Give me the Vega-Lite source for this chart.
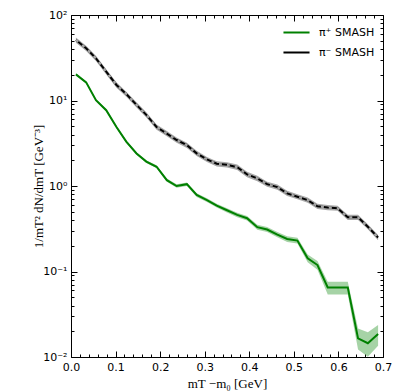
{
  "$schema": "https://vega.github.io/schema/vega-lite/v6.json",
  "autosize": "none",
  "width": 312,
  "height": 342,
  "padding": {"left": 71, "top": 15, "right": 13, "bottom": 35},
  "data": {"values": [
    {"x": 0.011, "s": "π⁺ SMASH", "y": 20.2, "lo": 19.6, "hi": 20.8},
    {"x": 0.034, "s": "π⁺ SMASH", "y": 16.3, "lo": 15.8, "hi": 16.8},
    {"x": 0.056, "s": "π⁺ SMASH", "y": 10.1, "lo": 9.8, "hi": 10.4},
    {"x": 0.079, "s": "π⁺ SMASH", "y": 7.7, "lo": 7.45, "hi": 7.95},
    {"x": 0.102, "s": "π⁺ SMASH", "y": 4.9, "lo": 4.75, "hi": 5.05},
    {"x": 0.124, "s": "π⁺ SMASH", "y": 3.3, "lo": 3.19, "hi": 3.41},
    {"x": 0.147, "s": "π⁺ SMASH", "y": 2.4, "lo": 2.32, "hi": 2.48},
    {"x": 0.169, "s": "π⁺ SMASH", "y": 1.93, "lo": 1.86, "hi": 2.0},
    {"x": 0.192, "s": "π⁺ SMASH", "y": 1.68, "lo": 1.61, "hi": 1.75},
    {"x": 0.215, "s": "π⁺ SMASH", "y": 1.17, "lo": 1.12, "hi": 1.22},
    {"x": 0.237, "s": "π⁺ SMASH", "y": 1.0, "lo": 0.955, "hi": 1.045},
    {"x": 0.26, "s": "π⁺ SMASH", "y": 1.05, "lo": 1.0, "hi": 1.1},
    {"x": 0.282, "s": "π⁺ SMASH", "y": 0.785, "lo": 0.745, "hi": 0.825},
    {"x": 0.305, "s": "π⁺ SMASH", "y": 0.685, "lo": 0.65, "hi": 0.72},
    {"x": 0.327, "s": "π⁺ SMASH", "y": 0.59, "lo": 0.56, "hi": 0.62},
    {"x": 0.35, "s": "π⁺ SMASH", "y": 0.52, "lo": 0.49, "hi": 0.55},
    {"x": 0.373, "s": "π⁺ SMASH", "y": 0.46, "lo": 0.432, "hi": 0.488},
    {"x": 0.395, "s": "π⁺ SMASH", "y": 0.42, "lo": 0.394, "hi": 0.446},
    {"x": 0.418, "s": "π⁺ SMASH", "y": 0.33, "lo": 0.308, "hi": 0.352},
    {"x": 0.44, "s": "π⁺ SMASH", "y": 0.31, "lo": 0.289, "hi": 0.331},
    {"x": 0.463, "s": "π⁺ SMASH", "y": 0.27, "lo": 0.251, "hi": 0.289},
    {"x": 0.485, "s": "π⁺ SMASH", "y": 0.24, "lo": 0.222, "hi": 0.258},
    {"x": 0.508, "s": "π⁺ SMASH", "y": 0.23, "lo": 0.212, "hi": 0.248},
    {"x": 0.531, "s": "π⁺ SMASH", "y": 0.143, "lo": 0.128, "hi": 0.158},
    {"x": 0.553, "s": "π⁺ SMASH", "y": 0.119, "lo": 0.105, "hi": 0.133},
    {"x": 0.576, "s": "π⁺ SMASH", "y": 0.065, "lo": 0.054, "hi": 0.076},
    {"x": 0.598, "s": "π⁺ SMASH", "y": 0.065, "lo": 0.054, "hi": 0.076},
    {"x": 0.621, "s": "π⁺ SMASH", "y": 0.065, "lo": 0.054, "hi": 0.076},
    {"x": 0.644, "s": "π⁺ SMASH", "y": 0.0165, "lo": 0.0122, "hi": 0.0215},
    {"x": 0.666, "s": "π⁺ SMASH", "y": 0.0145, "lo": 0.0101, "hi": 0.0195},
    {"x": 0.689, "s": "π⁺ SMASH", "y": 0.0186, "lo": 0.0135, "hi": 0.0237},
    {"x": 0.011, "s": "π⁻ SMASH", "y": 51, "lo": 47.4, "hi": 54.6},
    {"x": 0.034, "s": "π⁻ SMASH", "y": 40.8, "lo": 37.9, "hi": 43.7},
    {"x": 0.056, "s": "π⁻ SMASH", "y": 31.1, "lo": 28.9, "hi": 33.3},
    {"x": 0.079, "s": "π⁻ SMASH", "y": 21.7, "lo": 20.2, "hi": 23.2},
    {"x": 0.102, "s": "π⁻ SMASH", "y": 15.2, "lo": 14.1, "hi": 16.3},
    {"x": 0.124, "s": "π⁻ SMASH", "y": 11.9, "lo": 11.1, "hi": 12.7},
    {"x": 0.147, "s": "π⁻ SMASH", "y": 8.9, "lo": 8.28, "hi": 9.52},
    {"x": 0.169, "s": "π⁻ SMASH", "y": 6.8, "lo": 6.32, "hi": 7.28},
    {"x": 0.192, "s": "π⁻ SMASH", "y": 4.9, "lo": 4.56, "hi": 5.24},
    {"x": 0.215, "s": "π⁻ SMASH", "y": 4.1, "lo": 3.81, "hi": 4.39},
    {"x": 0.237, "s": "π⁻ SMASH", "y": 3.45, "lo": 3.21, "hi": 3.69},
    {"x": 0.26, "s": "π⁻ SMASH", "y": 3.0, "lo": 2.79, "hi": 3.21},
    {"x": 0.282, "s": "π⁻ SMASH", "y": 2.41, "lo": 2.24, "hi": 2.58},
    {"x": 0.305, "s": "π⁻ SMASH", "y": 2.05, "lo": 1.91, "hi": 2.19},
    {"x": 0.327, "s": "π⁻ SMASH", "y": 1.82, "lo": 1.69, "hi": 1.95},
    {"x": 0.35, "s": "π⁻ SMASH", "y": 1.77, "lo": 1.65, "hi": 1.89},
    {"x": 0.373, "s": "π⁻ SMASH", "y": 1.66, "lo": 1.54, "hi": 1.78},
    {"x": 0.395, "s": "π⁻ SMASH", "y": 1.37, "lo": 1.27, "hi": 1.47},
    {"x": 0.418, "s": "π⁻ SMASH", "y": 1.23, "lo": 1.14, "hi": 1.32},
    {"x": 0.44, "s": "π⁻ SMASH", "y": 1.05, "lo": 0.977, "hi": 1.12},
    {"x": 0.463, "s": "π⁻ SMASH", "y": 0.97, "lo": 0.902, "hi": 1.04},
    {"x": 0.485, "s": "π⁻ SMASH", "y": 0.82, "lo": 0.763, "hi": 0.877},
    {"x": 0.508, "s": "π⁻ SMASH", "y": 0.75, "lo": 0.698, "hi": 0.803},
    {"x": 0.531, "s": "π⁻ SMASH", "y": 0.685, "lo": 0.637, "hi": 0.733},
    {"x": 0.553, "s": "π⁻ SMASH", "y": 0.58, "lo": 0.539, "hi": 0.621},
    {"x": 0.576, "s": "π⁻ SMASH", "y": 0.56, "lo": 0.521, "hi": 0.599},
    {"x": 0.598, "s": "π⁻ SMASH", "y": 0.55, "lo": 0.512, "hi": 0.589},
    {"x": 0.621, "s": "π⁻ SMASH", "y": 0.43, "lo": 0.4, "hi": 0.46},
    {"x": 0.644, "s": "π⁻ SMASH", "y": 0.43, "lo": 0.4, "hi": 0.46},
    {"x": 0.666, "s": "π⁻ SMASH", "y": 0.334, "lo": 0.311, "hi": 0.357},
    {"x": 0.689, "s": "π⁻ SMASH", "y": 0.25, "lo": 0.2325, "hi": 0.2675}
  ]},
  "layer": [
    {
      "transform": [{"filter": "datum.s === 'π⁻ SMASH'"}],
      "mark": {"type": "area", "color": "#999999", "opacity": 0.85},
      "encoding": {
        "x": {"field": "x", "type": "quantitative", "scale": {"domain": [0, 0.7], "nice": false},
          "axis": {"orient": "bottom", "values": [0,0.02,0.04,0.06,0.08,0.1,0.12,0.14,0.16,0.18,0.2,0.22,0.24,0.26,0.28,0.3,0.32,0.34,0.36,0.38,0.4,0.42,0.44,0.46,0.48,0.5,0.52,0.54,0.56,0.58,0.6,0.62,0.64,0.66,0.68,0.7],
            "tickSize": {"condition": {"test": "abs(datum.value*10 - round(datum.value*10)) < 0.001", "value": -6}, "value": -3},
            "labelExpr": "abs(datum.value*10 - round(datum.value*10)) < 0.001 ? format(datum.value, '.1f') : ''",
            "labelPadding": 10, "labelFlush": false, "labelOverlap": false,
            "title": "mT −m₀  [GeV]", "titlePadding": 2}},
        "y": {"field": "lo", "type": "quantitative", "scale": {"type": "log", "domain": [0.01, 100], "nice": false},
          "axis": {"orient": "left", "values": [0.01,0.02,0.03,0.04,0.05,0.06,0.07,0.08,0.09,0.1,0.2,0.3,0.4,0.5,0.6,0.7,0.8,0.9,1,2,3,4,5,6,7,8,9,10,20,30,40,50,60,70,80,90,100],
            "tickSize": {"condition": {"test": "indexof([0.01,0.1,1,10,100], datum.value) >= 0", "value": -6}, "value": -3},
            "labelExpr": "datum.value==100?'10²':datum.value==10?'10¹':datum.value==1?'10⁰':datum.value==0.1?'10⁻¹':datum.value==0.01?'10⁻²':''",
            "labelPadding": 10, "labelFlush": false, "labelOverlap": false,
            "title": "1/mT² dN/dmT  [GeV⁻³]", "titlePadding": -3}},
        "y2": {"field": "hi"}
      }
    },
    {
      "transform": [{"filter": "datum.s === 'π⁺ SMASH'"}],
      "mark": {"type": "area", "color": "#008000", "opacity": 0.35},
      "encoding": {
        "x": {"field": "x", "type": "quantitative", "axis": null},
        "y": {"field": "lo", "type": "quantitative", "axis": null},
        "y2": {"field": "hi"}
      }
    },
    {
      "mark": {"type": "line", "strokeWidth": 2},
      "encoding": {
        "x": {"field": "x", "type": "quantitative", "axis": null},
        "y": {"field": "y", "type": "quantitative", "axis": null},
        "color": {"field": "s", "type": "nominal",
          "scale": {"domain": ["π⁺ SMASH", "π⁻ SMASH"], "range": ["#008000", "#000000"]},
          "legend": {"title": null, "orient": "none", "legendX": 211, "legendY": 3,
            "symbolType": "stroke", "symbolSize": 680, "symbolStrokeWidth": 2,
            "labelFont": "DejaVu Sans", "labelFontSize": 11, "labelColor": "black", "labelOffset": 8, "rowPadding": -3}}
      }
    },
    {
      "transform": [{"filter": "datum.s === 'π⁻ SMASH'"}],
      "mark": {"type": "line", "strokeWidth": 2.2, "color": "#a6a6a6", "strokeDash": [3, 5]},
      "encoding": {
        "x": {"field": "x", "type": "quantitative", "axis": null},
        "y": {"field": "y", "type": "quantitative", "axis": null}
      }
    },
    {
      "mark": {"type": "point", "opacity": 0},
      "encoding": {
        "x": {"field": "x", "type": "quantitative",
          "axis": {"orient": "top", "values": [0,0.02,0.04,0.06,0.08,0.1,0.12,0.14,0.16,0.18,0.2,0.22,0.24,0.26,0.28,0.3,0.32,0.34,0.36,0.38,0.4,0.42,0.44,0.46,0.48,0.5,0.52,0.54,0.56,0.58,0.6,0.62,0.64,0.66,0.68,0.7],
            "tickSize": {"condition": {"test": "abs(datum.value*10 - round(datum.value*10)) < 0.001", "value": -6}, "value": -3},
            "labels": false, "title": null}},
        "y": {"field": "y", "type": "quantitative",
          "axis": {"orient": "right", "values": [0.01,0.02,0.03,0.04,0.05,0.06,0.07,0.08,0.09,0.1,0.2,0.3,0.4,0.5,0.6,0.7,0.8,0.9,1,2,3,4,5,6,7,8,9,10,20,30,40,50,60,70,80,90,100],
            "tickSize": {"condition": {"test": "indexof([0.01,0.1,1,10,100], datum.value) >= 0", "value": -6}, "value": -3},
            "labels": false, "title": null}}
      }
    }
  ],
  "resolve": {"axis": {"x": "independent", "y": "independent"}},
  "config": {
    "view": {"stroke": "black", "strokeWidth": 1},
    "axis": {"domain": false, "grid": false, "ticks": true, "tickColor": "black", "tickWidth": 1,
      "labelColor": "black", "labelFont": "DejaVu Sans", "labelFontSize": 11,
      "titleFont": "Liberation Serif", "titleFontSize": 13, "titleFontWeight": "normal", "titleColor": "black"}
  }
}
